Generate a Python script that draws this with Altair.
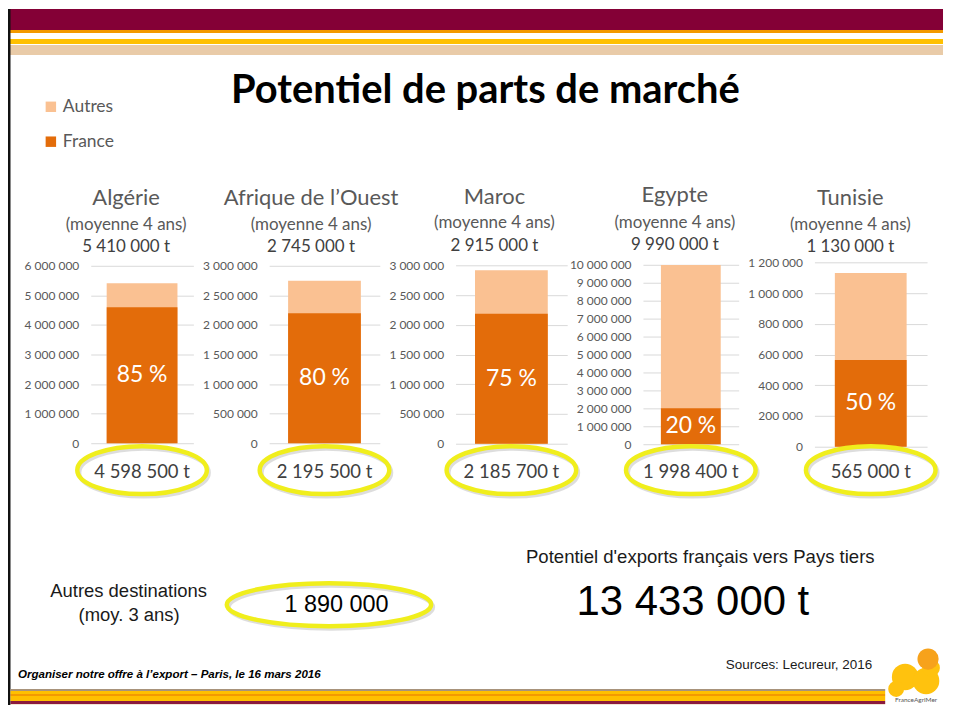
import altair as alt
import pandas as pd

# ---------------- data ----------------
pays = ["Algérie", "Afrique de l’Ouest", "Maroc", "Egypte", "Tunisie"]
periode = ["(moyenne 4 ans)"] * 5
total_t = [5410000, 2745000, 2915000, 9990000, 1130000]
france_t = [4598500, 2195500, 2185700, 1998400, 565000]
part_france = [85, 80, 75, 20, 50]
axe_max = [6000000, 3000000, 3000000, 10000000, 1200000]
axe_pas = [1000000, 500000, 500000, 1000000, 200000]
series = ["Autres", "France"]
autres_destinations = 1890000
potentiel_total = 13433000

# ---------------- style ----------------
C_FRANCE = "#e36c0a"
C_AUTRES = "#fac192"
COLORS = dict(zip(series, [C_AUTRES, C_FRANCE]))
GREY = "#595959"
DARK = "#404040"
YELLOW = "#f0ee1c"
MAROON = "#840036"
TAN = "#e9cba8"
GOLD = "#ffc000"
ORANGE = "#f39a00"
LATO = "Lato"
ARIAL = "Liberation Sans"
NARROW = "Liberation Sans Narrow, Arial Narrow, Liberation Sans"


def fr(n):
    return f"{n:,}".replace(",", " ")


# layout (page pixels)
PX = [91, 270, 457, 645, 817]
PW = [103, 111, 112, 96, 113]
PH = [178, 178, 179, 180, 185]
BW = [71, 73, 73, 60, 72]
ROW_TOP = 262
SPACING = 76
TOPS = [ROW_TOP + (max(PH) - h) / 2 for h in PH]
TITLE_X = [126.5, 312, 496, 677, 853]
TITLE_Y = [(198, 225, 247), (198, 225, 247), (197, 223, 246), (195, 223, 245), (198, 225, 247)]
ELL_Y = 470.5
RIGHT = 946   # rightmost drawn pixel column (page stays within the window)
BOTTOM = 706  # lowest drawn pixel row


def ellipse_path(r):
    k = 0.5523
    a = k * r
    return (f"M-1,0 C-1,{-a:.4f} {-k},{-r} 0,{-r} C{k},{-r} 1,{-a:.4f} 1,0 "
            f"C1,{a:.4f} {k},{r} 0,{r} C{-k},{r} -1,{a:.4f} -1,0 Z")


ELL_SMALL = ellipse_path(0.37)
ELL_WIDE = ellipse_path(0.21)

ONE = pd.DataFrame({"_": [0]})
OX, OY = PX[0], TOPS[0]


def d_rect(x1, y1, x2, y2, color):
    return alt.Chart(ONE).mark_rect(color=color).encode(
        x=alt.value(x1 - OX), x2=alt.value(x2 - OX),
        y=alt.value(y1 - OY), y2=alt.value(y2 - OY))


def d_text(x, y, s, size, color="#000000", font=LATO, align="center",
           baseline="middle", weight="normal", style="normal"):
    return alt.Chart(ONE).mark_text(
        font=font, fontSize=size, color=color, align=align, baseline=baseline,
        fontWeight=weight, fontStyle=style).encode(
        x=alt.value(x - OX), y=alt.value(y - OY), text=alt.value(s))


def d_point(x, y, shape, size, color, filled=True, sw=1, opacity=1.0):
    if filled:
        m = alt.Chart(ONE).mark_point(shape=shape, size=size, filled=True,
                                      color=color, opacity=opacity, strokeWidth=0)
    else:
        m = alt.Chart(ONE).mark_point(shape=shape, size=size, filled=False,
                                      stroke=color, strokeWidth=sw, opacity=opacity)
    return m.encode(x=alt.value(x - OX), y=alt.value(y - OY))


def decorations():
    layers = []
    # header bands
    layers += [
        d_rect(8, 8, RIGHT, 29, MAROON),
        d_rect(8, 29, RIGHT, 32, ORANGE),
        d_rect(8, 38, RIGHT, 43, GOLD),
        d_rect(8, 44, RIGHT, 54, TAN),
        d_rect(8, 8, 10.5, BOTTOM, "#111111"),
    ]
    # footer bands
    layers += [
        d_rect(10.5, 690, 888, 692, "#a8937b"),
        d_rect(10.5, 692, 888, 695, GOLD),
        d_rect(10.5, 695, 888, 697, ORANGE),
        d_rect(10.5, 697, 888, 702, GOLD),
        d_rect(10.5, 702, 888, 705, "#8b1a3d"),
        d_rect(10.5, 705.5, 888, BOTTOM, TAN),
    ]
    # title
    layers.append(d_text(487, 102, "Potentiel de parts de marché", 40,
                         color="#000000", baseline="alphabetic", weight="bold"))
    # legend
    for s, yy in zip(series, [106, 141]):
        layers.append(d_point(51, yy, "square", 110, COLORS[s]))
        layers.append(d_text(63, yy, s, 17.5, color=GREY, align="left"))
    # bottom block
    layers += [
        d_text(129, 592, "Autres destinations", 18.5, color="#1a1a1a", font=ARIAL),
        d_text(129.5, 616, "(moy. 3 ans)", 18.5, color="#1a1a1a", font=ARIAL),
        d_point(332, 608, ELL_WIDE, 205 ** 2, "#b5b5b5", filled=False, sw=4, opacity=0.45),
        d_point(330, 605.5, ELL_WIDE, 205 ** 2, YELLOW, filled=False, sw=4.5),
        d_text(337.5, 606, fr(autres_destinations), 23.5, color="#000000", font=ARIAL),
        d_text(702.5, 558, "Potentiel d'exports français vers Pays tiers", 18.6,
               color="#1a1a1a", font=ARIAL),
        d_text(695, 603, fr(potentiel_total) + " t", 42, color="#000000", font=ARIAL),
        d_text(18, 676, "Organiser notre offre à l’export  – Paris, le 16 mars 2016", 11.6,
               color="#000000", font=NARROW, align="left", weight="bold", style="italic"),
        d_text(875, 666, "Sources: Lecureur, 2016", 13.5, color="#1a1a1a",
               font=ARIAL, align="right"),
    ]
    # logo
    layers += [
        d_point(908, 678, "circle", 707, "#ffc20e"),
        d_point(929, 682, "circle", 707, "#ffc20e"),
        d_point(899, 690, "circle", 254, "#ffc20e"),
        d_point(934, 669, "circle", 314, "#ffc20e"),
        d_point(931, 660, "circle", 452, "#f7a21b"),
        d_text(919, 701, "FranceAgriMer", 6.5, color="#555555"),
    ]
    return layers


def panel(i):
    df = pd.DataFrame({
        "pays": [pays[i]],
        "periode": [periode[i]],
        "total": [total_t[i]],
        "france": [france_t[i]],
        "pct": [f"{part_france[i]} %"],
        "total_lbl": [fr(total_t[i]) + " t"],
        "france_lbl": [fr(france_t[i]) + " t"],
    })
    ox, oy = PX[i], TOPS[i]
    ticks = list(range(0, axe_max[i] + 1, axe_pas[i]))
    ysc = alt.Scale(domain=[0, axe_max[i]], nice=False, zero=True)
    axis = alt.Axis(
        values=ticks, title=None, domain=False, ticks=False, grid=True,
        gridColor="#d9d9d9", gridWidth=1, labelColor=GREY, labelFont=LATO,
        labelFontSize=12, labelPadding=12,
        labelExpr="replace(format(datum.value, ','), /,/g, ' ')")
    base = alt.Chart(df).encode(x=alt.X("pays:N", axis=None, title=None))

    autres = base.mark_bar(size=BW[i], color=COLORS["Autres"]).encode(
        y=alt.Y("total:Q", scale=ysc, axis=axis))
    france = base.mark_bar(size=BW[i], color=COLORS["France"]).encode(
        y=alt.Y("france:Q", scale=ysc, axis=axis))
    pct = base.transform_calculate(mid="datum.france / 2").mark_text(
        font=LATO, fontSize=23, color="white").encode(
        y=alt.Y("mid:Q", scale=ysc, axis=axis), text="pct:N")

    cx = TITLE_X[i] - ox
    t1 = base.mark_text(font=LATO, fontSize=22, color=GREY).encode(
        x=alt.value(cx), y=alt.value(TITLE_Y[i][0] - oy), text="pays:N")
    t2 = base.mark_text(font=LATO, fontSize=17, color=GREY).encode(
        x=alt.value(cx), y=alt.value(TITLE_Y[i][1] - oy), text="periode:N")
    t3 = base.mark_text(font=LATO, fontSize=17, color=DARK).encode(
        x=alt.value(cx), y=alt.value(TITLE_Y[i][2] - oy), text="total_lbl:N")

    shadow = base.mark_point(shape=ELL_SMALL, size=130 ** 2, filled=False,
                             stroke="#b5b5b5", strokeWidth=4, opacity=0.45).encode(
        x=alt.value(PW[i] / 2 + 2), y=alt.value(ELL_Y - oy + 2.5))
    ell = base.mark_point(shape=ELL_SMALL, size=130 ** 2, filled=False,
                          stroke=YELLOW, strokeWidth=4.5, opacity=1).encode(
        y=alt.value(ELL_Y - oy))
    val = base.mark_text(font=LATO, fontSize=18.5, color=DARK).encode(
        y=alt.value(ELL_Y + 1.5 - oy), text="france_lbl:N")

    layers = [autres, france, pct, t1, t2, t3, shadow, ell, val]
    if i == 0:
        layers = decorations() + layers
    return alt.layer(*layers).properties(width=PW[i], height=PH[i])


chart = alt.hconcat(
    *[panel(i) for i in range(5)],
    spacing=SPACING, bounds="flush", center=True,
).properties(padding=0, background="white").configure_view(stroke=None)

chart.save("out.html", embed_options={"renderer": "svg", "actions": False})
